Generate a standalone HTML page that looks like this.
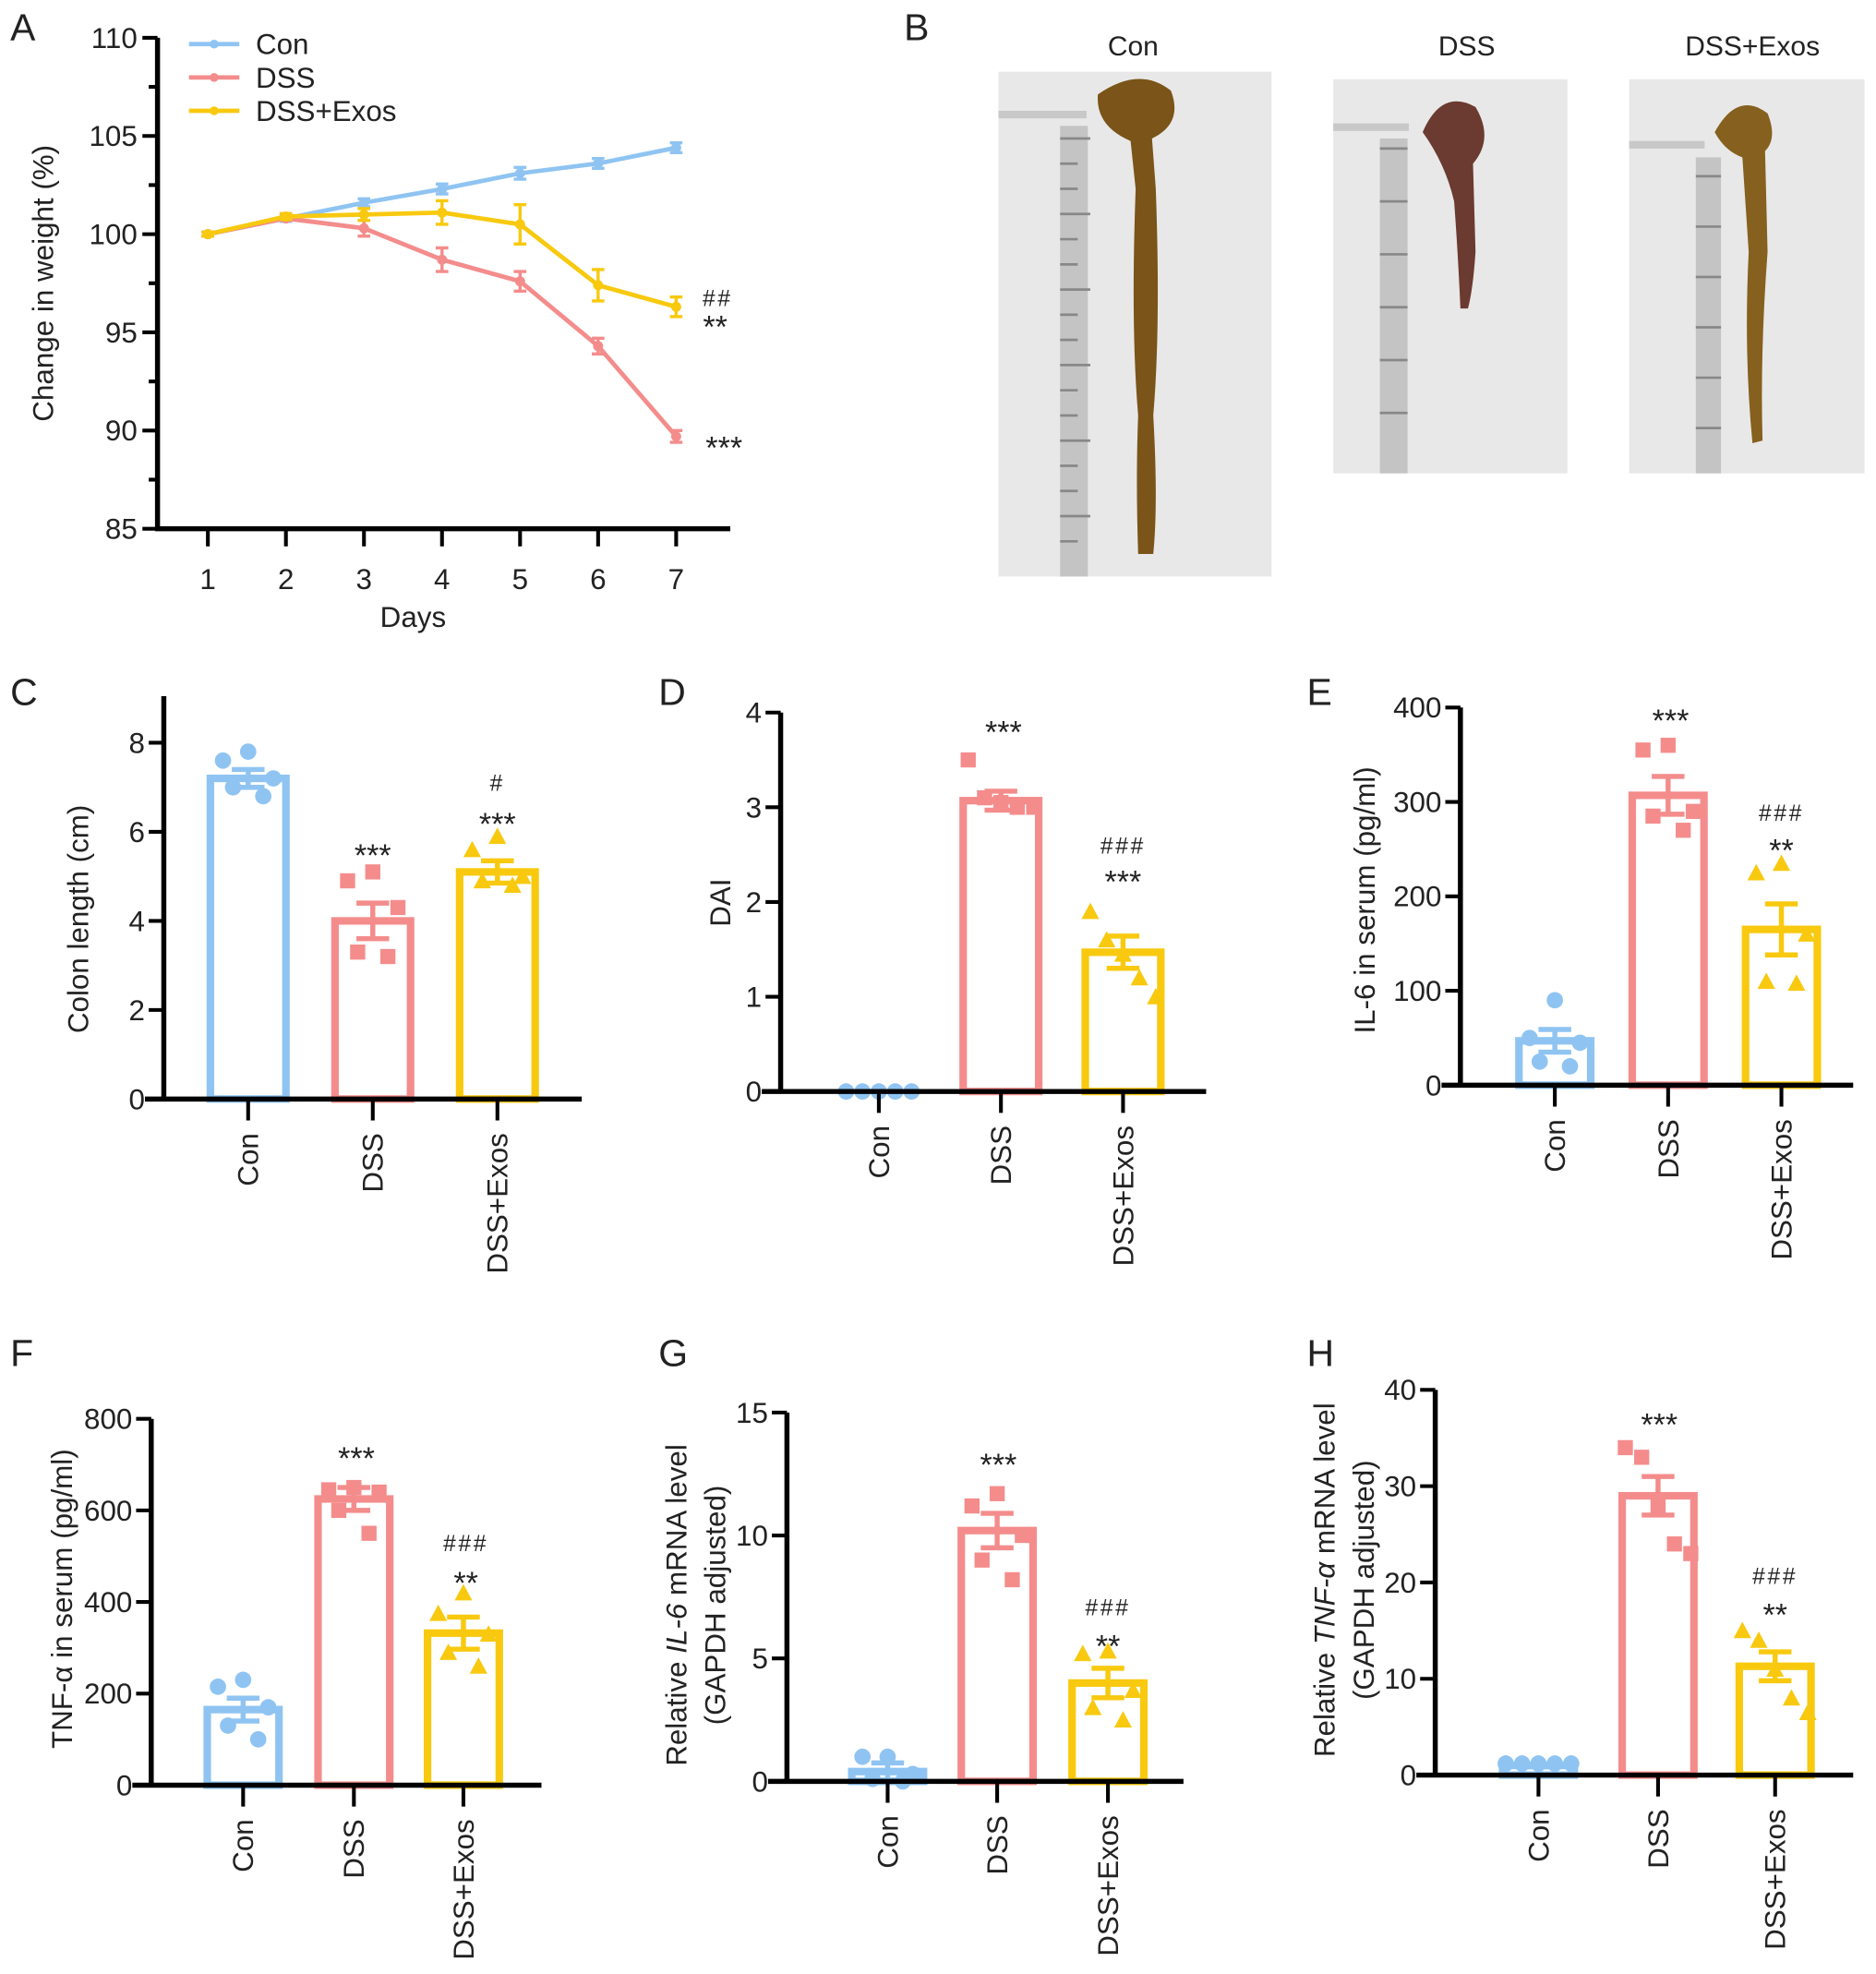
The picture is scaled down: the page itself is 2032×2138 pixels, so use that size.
<!DOCTYPE html>
<html><head><meta charset="utf-8">
<style>
html,body{margin:0;padding:0;background:#fff}
svg{display:block}
text{font-family:"Liberation Sans",Arial,sans-serif;fill:#222}
</style></head>
<body>
<svg id="fig" xmlns="http://www.w3.org/2000/svg" width="2032" height="2138" viewBox="0 0 1490 1568">
<g id="panelB">
  <text x="718" y="32" font-size="30">B</text>
  <text x="900" y="44" font-size="22" text-anchor="middle">Con</text>
  <text x="1165" y="44" font-size="22" text-anchor="middle">DSS</text>
  <text x="1392" y="44" font-size="22" text-anchor="middle">DSS+Exos</text>
  <g>
    <rect x="793" y="57" width="217" height="401" fill="#e8e8e8"/>
    <rect x="793" y="88" width="70" height="6" fill="#c8c8c8"/>
    <rect x="842" y="100" width="22" height="358" fill="#c4c4c4"/>
    <path d="M842 110 H866 M842 130 H856 M842 150 H856 M842 170 H866 M842 190 H856 M842 210 H856 M842 230 H866 M842 250 H856 M842 270 H856 M842 290 H866 M842 310 H856 M842 330 H856 M842 350 H866 M842 370 H856 M842 390 H856 M842 410 H866 M842 430 H856" stroke="#888" stroke-width="2"/>
    <path d="M872 75 Q905 52 930 72 Q940 98 915 110 L918 150 Q922 260 916 330 Q920 400 916 440 L904 440 Q902 380 904 330 Q898 260 902 150 L898 112 Q870 100 872 75Z" fill="#7a5418"/>
  </g>
  <g>
    <rect x="1059" y="63" width="186" height="313" fill="#e8e8e8"/>
    <rect x="1059" y="98" width="60" height="6" fill="#c8c8c8"/>
    <rect x="1096" y="110" width="22" height="266" fill="#c4c4c4"/>
    <path d="M1096 118 H1118 M1096 160 H1118 M1096 202 H1118 M1096 244 H1118 M1096 286 H1118 M1096 328 H1118" stroke="#888" stroke-width="2"/>
    <path d="M1130 105 Q1145 70 1172 85 Q1187 110 1170 130 L1172 200 Q1170 230 1166 245 L1160 245 Q1158 200 1155 160 Q1148 130 1130 105Z" fill="#6b3a30"/>
  </g>
  <g>
    <rect x="1294" y="63" width="187" height="313" fill="#e8e8e8"/>
    <rect x="1294" y="112" width="60" height="6" fill="#c8c8c8"/>
    <rect x="1347" y="125" width="20" height="251" fill="#c4c4c4"/>
    <path d="M1347 140 H1367 M1347 180 H1367 M1347 220 H1367 M1347 260 H1367 M1347 300 H1367 M1347 340 H1367" stroke="#888" stroke-width="2"/>
    <path d="M1362 105 Q1380 72 1404 90 Q1412 110 1402 120 L1404 200 Q1398 280 1400 350 L1392 352 Q1385 280 1389 200 L1384 125 Q1370 120 1362 105Z" fill="#86601e"/>
  </g>
</g>
<g id="charts"></g>
</svg>
<script>
// ---------- Panel A data ----------
const daysA = [1,2,3,4,5,6,7];
const conA = [100,100.8,101.6,102.3,103.1,103.6,104.4];
const conAErr = [0.1,0.15,0.2,0.25,0.3,0.25,0.25];
const dssA = [100,100.8,100.3,98.7,97.6,94.3,89.7];
const dssAErr = [0.1,0.1,0.4,0.6,0.5,0.4,0.3];
const exoA = [100,100.9,101.0,101.1,100.5,97.4,96.3];
const exoAErr = [0.1,0.15,0.3,0.6,1.0,0.8,0.5];
const yTicksA = [85,90,95,100,105,110];

// ---------- Bar panels data ----------
const groups = ["Con","DSS","DSS+Exos"];
const meansC = [7.2,4.0,5.1];
const semC = [0.2,0.4,0.25];
const ptsC = [[7.8,7.6,7.2,7.0,6.8],[5.1,4.9,4.3,3.3,3.2],[5.9,5.6,5.0,4.9,4.8]];
const ticksC = [0,2,4,6,8];
const meansD = [0,3.07,1.47];
const semD = [0,0.1,0.17];
const ptsD = [[0,0,0,0,0],[3.5,3.1,3.05,3.0,3.0],[1.9,1.6,1.45,1.2,1.0]];
const ticksD = [0,1,2,3,4];
const meansE = [47,307,165];
const semE = [12,20,27];
const ptsE = [[90,50,45,25,20],[360,355,290,285,270],[235,225,160,110,108]];
const ticksE = [0,100,200,300,400];
const meansF = [165,625,332];
const semF = [25,25,35];
const ptsF = [[230,215,170,130,100],[650,645,640,600,550],[420,375,330,290,260]];
const ticksF = [0,200,400,600,800];
const meansG = [0.4,10.2,4.0];
const semG = [0.35,0.7,0.6];
const ptsG = [[1.0,1.0,0.3,0.1,0.0],[11.7,11.2,10.0,9.0,8.2],[5.3,5.2,3.7,3.0,2.5]];
const ticksG = [0,5,10,15];
const meansH = [1.0,29,11.3];
const semH = [0.15,2,1.5];
const ptsH = [[1.2,1.2,1.2,1.2,1.2],[34,33,28,24,23],[15,14,11,8,6.5]];
const ticksH = [0,10,20,30,40];

const COLORS = ["#8fc4f2","#f48c8c","#f8c90f"];
const NS = "http://www.w3.org/2000/svg";
const root = document.getElementById("charts");
function mk(tag, attrs, parent, txt){
  const e = document.createElementNS(NS, tag);
  for (const k in attrs) e.setAttribute(k, attrs[k]);
  if (txt !== undefined) e.textContent = txt;
  (parent||root).appendChild(e);
  return e;
}
function annot(g,x,y,s){
  const hash = s.includes("#");
  const t = mk("text",{x:x,y:y,"font-size":hash?18:25,"text-anchor":"middle","letter-spacing":hash?2:0},g,s);
  
  
}

// ---------- Panel A ----------
(function(){
  const g = mk("g",{});
  
  
  const x0=125, yTop=30, yBot=420;
  const xs = d => 165 + (d-1)*(537-165)/6;
  const ys = v => yBot - (v-85)*(yBot-yTop)/25;
  const lab = mk("text",{x:8,y:32,"font-size":30},g,"A");
  
  
  const ax = mk("path",{d:`M${x0} ${yTop} V${yBot} H580`,stroke:"#000","stroke-width":4,fill:"none"},g);
  
  
  yTicksA.forEach((t,i)=>{
    mk("line",{x1:x0-12,x2:x0,y1:ys(t),y2:ys(t),stroke:"#000","stroke-width":3},g);
    if(i<yTicksA.length-1) mk("line",{x1:x0-7,x2:x0,y1:ys(t+2.5),y2:ys(t+2.5),stroke:"#000","stroke-width":3},g);
    const tl = mk("text",{x:x0-16,y:ys(t)+8,"font-size":23,"text-anchor":"end"},g,String(t));
    
    
  });
  daysA.forEach(d=>{
    mk("line",{x1:xs(d),x2:xs(d),y1:yBot,y2:yBot+14,stroke:"#000","stroke-width":3},g);
    const tl = mk("text",{x:xs(d),y:468,"font-size":23,"text-anchor":"middle"},g,String(d));
    
    
  });
  const xt = mk("text",{x:328,y:498,"font-size":23,"text-anchor":"middle"},g,"Days");
  
  
  const yt = mk("text",{x:0,y:0,"font-size":23,"text-anchor":"middle",transform:`translate(42 225) rotate(-90)`},g,"Change in weight (%)");
  
  
  const series=[[conA,conAErr,"con"],[dssA,dssAErr,"dss"],[exoA,exoAErr,"dss-exos"]];
  series.forEach((s,si)=>{
    const c=COLORS[si];
    const p = mk("polyline",{points:s[0].map((v,i)=>xs(daysA[i])+","+ys(v)).join(" "),fill:"none",stroke:c,"stroke-width":3.5},g);
    
    
    s[0].forEach((v,i)=>{
      const x=xs(daysA[i]), e=s[1][i];
      mk("path",{d:`M${x} ${ys(v+e)} V${ys(v-e)} M${x-5} ${ys(v+e)} H${x+5} M${x-5} ${ys(v-e)} H${x+5}`,stroke:c,"stroke-width":2.5,fill:"none"},g);
      const m = mk("circle",{cx:x,cy:ys(v),r:4,fill:c},g);
      
      
    });
  });
  ["Con","DSS","DSS+Exos"].forEach((n,i)=>{
    const y=35+i*26.5;
    const le = mk("g",{},g);
    
    
    mk("line",{x1:150,x2:190,y1:y,y2:y,stroke:COLORS[i],"stroke-width":3.5},le);
    mk("circle",{cx:170,cy:y,r:3.5,fill:COLORS[i]},le);
    mk("text",{x:203,y:y+8,"font-size":23},le,n);
  });
  annot(g,570,243,"##");
  annot(g,568,268,"**");
  annot(g,575,364,"***");
})();

// ---------- Bar panel generic ----------
function barPanel(cfg){
  const g = mk("g",{});
  
  
  const {ax,y0,yTop,axTop,xEnd,cx,bw,tmax} = cfg;
  const ys = v => y0 - v*(y0-yTop)/tmax;
  const lab = mk("text",{x:cfg.lx,y:cfg.ly,"font-size":30},g,cfg.letter);
  
  
  cfg.means.forEach((m,i)=>{
    const c=COLORS[i];
    const h = Math.max(y0-ys(m),0);
    const b = mk("rect",{x:cx[i]-bw/2,y:ys(m),width:bw,height:h,fill:"#fff",stroke:c,"stroke-width":6},g);
    
    
    const e=cfg.sem[i];
    if(e>0){
      const x=cx[i];
      mk("path",{d:`M${x} ${ys(m+e)} V${ys(m-e)} M${x-13} ${ys(m+e)} H${x+13} M${x-13} ${ys(m-e)} H${x+13} M${x-bw/2} ${ys(m)} H${x+bw/2}`,stroke:c,"stroke-width":4,fill:"none"},g);
    }
    const offs=[-20,-10,0,10,20];
    cfg.pts[i].forEach((v,j)=>{
      const px = cx[i] + (cfg.spread ? offs[j]*1.3 : [0,-20,20,-12,12][j]);
      const py = ys(v);
      let p;
      if(i===0) p = mk("circle",{cx:px,cy:py,r:6.5,fill:c},g);
      else if(i===1) p = mk("rect",{x:px-6,y:py-6,width:12,height:12,fill:c},g);
      else p = mk("path",{d:`M${px} ${py-7} L${px+7} ${py+6} L${px-7} ${py+6}Z`,fill:c},g);
      
      
    });
  });
  const a = mk("path",{d:`M${ax} ${axTop} V${y0} M${ax-15} ${y0} H${xEnd}`,stroke:"#000","stroke-width":4,fill:"none"},g);
  
  
  cfg.ticks.forEach(t=>{
    mk("line",{x1:ax-12,x2:ax,y1:ys(t),y2:ys(t),stroke:"#000","stroke-width":3},g);
    const tl = mk("text",{x:ax-15,y:ys(t)+8,"font-size":23,"text-anchor":"end"},g,String(t));
    
    
  });
  groups.forEach((n,i)=>{
    mk("line",{x1:cx[i],x2:cx[i],y1:y0,y2:y0+17,stroke:"#000","stroke-width":3},g);
    const tl = mk("text",{"font-size":23,"text-anchor":"end",transform:`translate(${cx[i]+8} ${y0+27}) rotate(-90)`},g,n);
    
    
  });
  cfg.titles.forEach((t,k)=>{
    const tt = mk("text",{"font-size":23,"text-anchor":"middle",transform:`translate(${cfg.tx[k]} ${cfg.ty}) rotate(-90)`},g);
    
    
    tt.innerHTML = t;
  });
  cfg.ann.forEach(a=>annot(g,a[0],a[1],a[2]));
}

barPanel({name:"panel-c-colon-length",letter:"C",lx:8,ly:560,ax:130,y0:873,yTop:590,axTop:553,xEnd:462,cx:[197,296,395],bw:60,tmax:8,ticks:ticksC,means:meansC,sem:semC,pts:ptsC,
  titles:["Colon length (cm)"],tx:[70],ty:730,ann:[[296,688,"***"],[395,628,"#"],[395,663,"***"]]});
barPanel({name:"panel-d-dai",letter:"D",lx:523,ly:560,ax:620,y0:867,yTop:566,axTop:566,xEnd:958,cx:[698,795,892],bw:60,tmax:4,ticks:ticksD,means:meansD,sem:semD,pts:ptsD,spread:true,
  titles:["DAI"],tx:[580],ty:717,ann:[[797,590,"***"],[892,678,"###"],[892,709,"***"]]});
barPanel({name:"panel-e-il6-serum",letter:"E",lx:1038,ly:560,ax:1160,y0:862,yTop:562,axTop:562,xEnd:1472,cx:[1235,1325,1415],bw:57,tmax:400,ticks:ticksE,means:meansE,sem:semE,pts:ptsE,
  titles:["IL-6 in serum (pg/ml)"],tx:[1092],ty:715,ann:[[1327,581,"***"],[1415,652,"###"],[1415,684,"**"]]});
barPanel({name:"panel-f-tnf-serum",letter:"F",lx:8,ly:1085,ax:120,y0:1418,yTop:1127,axTop:1127,xEnd:430,cx:[193,281,368],bw:57,tmax:800,ticks:ticksF,means:meansF,sem:semF,pts:ptsF,
  titles:["TNF-α in serum (pg/ml)"],tx:[57],ty:1270,ann:[[283,1167,"***"],[370,1232,"###"],[370,1266,"**"]]});
barPanel({name:"panel-g-il6-mrna",letter:"G",lx:523,ly:1085,ax:625,y0:1415,yTop:1122,axTop:1122,xEnd:940,cx:[705,792,880],bw:57,tmax:15,ticks:ticksG,means:meansG,sem:semG,pts:ptsG,
  titles:['Relative <tspan font-style="italic">IL-6</tspan> mRNA level','(GAPDH adjusted)'],tx:[545,576],ty:1275,ann:[[793,1172,"***"],[880,1283,"###"],[880,1316,"**"]]});
barPanel({name:"panel-h-tnf-mrna",letter:"H",lx:1038,ly:1085,ax:1140,y0:1410,yTop:1104,axTop:1104,xEnd:1472,cx:[1222,1317,1410],bw:57,tmax:40,ticks:ticksH,means:meansH,sem:semH,pts:ptsH,spread:true,
  titles:['Relative <tspan font-style="italic">TNF-α</tspan> mRNA level','(GAPDH adjusted)'],tx:[1060,1091],ty:1255,ann:[[1318,1140,"***"],[1410,1258,"###"],[1410,1291,"**"]]});
</script>
</body></html>
